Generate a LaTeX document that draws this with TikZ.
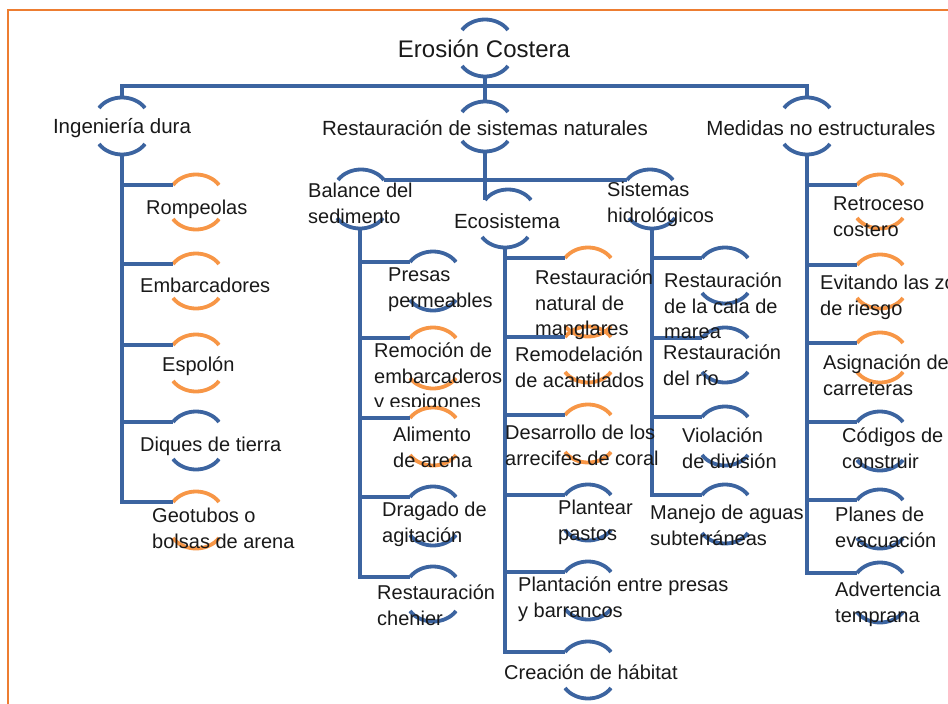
\documentclass[tikz,border=0pt]{standalone}
\usepackage{fontspec}
\setmainfont{Liberation Sans}
\usepackage{tikz}
\usetikzlibrary{positioning,calc}

\definecolor{lineblue}{RGB}{60,100,160}
\definecolor{capor}{RGB}{247,150,70}
\definecolor{framor}{RGB}{237,125,49}
\definecolor{txt}{RGB}{25,25,25}

\tikzset{
  conn/.style={draw=lineblue, line width=4.5pt},
  tcap/.pic={
    \draw[line width=3.8pt] (-23,0) .. controls (-12,-14) and (12,-14) .. (23,0);
    \coordinate (-l) at (-23,0); \coordinate (-r) at (23,0); \coordinate (-m) at (0,-10.5);
  },
  bcap/.pic={
    \draw[line width=3.8pt] (-23,0) .. controls (-12,14) and (12,14) .. (23,0);
    \coordinate (-l) at (-23,0); \coordinate (-r) at (23,0); \coordinate (-m) at (0,10.5);
  },
  leaf/.style={anchor=north west, inner sep=0pt, align=left, text=txt,
    font=\fontsize{20}{25.5}\selectfont},
  lvl/.style={anchor=base, inner sep=0pt, text=txt, font=\fontsize{20.5}{25.5}\selectfont},
}

\begin{document}
\begin{tikzpicture}[x=1pt,y=-1pt]
	\useasboundingbox (0,0) rectangle (948,704);
	\clip (0,0) rectangle (948,704);
	\draw[framor, line width=2pt] (8,10) rectangle (990,730);

	% caps of the upper levels
	\foreach \n/\x/\t/\u/\b in {ero/485/30/485/66, dura/122/108/122/144, rest/485/112/485/141,
	  medi/807/108/807/144, bal/361/180/360/218, eco/508/200/505/237, hid/650/180/652/218}{
		\pic[lineblue] (\n-t) at (\x,\t) {tcap};
		\pic[lineblue] (\n-b) at (\u,\b) {bcap};
	}
	\coordinate (bar) at (485,86);
	\draw[conn] (dura-t-m) |- (bar) -| (medi-t-m);
	\draw[conn] (ero-b-m) -- (rest-t-m);
	\draw[conn] (rest-b-m) -- (eco-t-l);
	\draw[conn] (bal-t-r) -- (hid-t-l);

	\foreach \n/\t/\b/\c in {romp/185/219/capor, embar/264/298/capor, espo/345/381/capor,
	  diq/422/459/lineblue, geo/502/538/capor}{
		\pic[\c] (\n-t) at (196,\t) {tcap};
		\pic[\c] (\n-b) at (196,\b) {bcap};
		\draw[conn] (dura-b-m) |- (\n-t-l);
	}
	\foreach \n/\t/\b/\c in {pres/262/300/lineblue, remo/338/378/capor, alim/418/455/capor,
	  drag/497/535/lineblue, chen/577/611/lineblue}{
		\pic[\c] (\n-t) at (433,\t) {tcap};
		\pic[\c] (\n-b) at (433,\b) {bcap};
		\draw[conn] (bal-b-m) |- (\n-t-l);
	}
	\foreach \n/\t/\b/\c in {mang/258/326/capor, acan/337/372/capor, arre/415/452/capor,
	  past/495/530/lineblue, barr/572/609/lineblue, habi/652/688/lineblue}{
		\pic[\c] (\n-t) at (588,\t) {tcap};
		\pic[\c] (\n-b) at (588,\b) {bcap};
		\draw[conn] (eco-b-m) |- (\n-t-l);
	}
	\foreach \n/\t/\b in {cala/258/293, rio/338/372, viol/417/455, agua/495/533}{
		\pic[lineblue] (\n-t) at (725,\t) {tcap};
		\pic[lineblue] (\n-b) at (725,\b) {bcap};
		\draw[conn] (hid-b-m) |- (\n-t-l);
	}
	\foreach \n/\t/\b/\c in {retr/185/218/capor, evit/265/298/capor, asig/343/372/capor,
	  codi/422/460/lineblue, plan/500/538/lineblue, adve/573/612/lineblue}{
		\pic[\c] (\n-t) at (880,\t) {tcap};
		\pic[\c] (\n-b) at (880,\b) {bcap};
		\draw[conn] (medi-b-m) |- (\n-t-l);
	}

	% texts
	\node[lvl, font=\fontsize{24}{29}\selectfont] (ero) at (484,57) {Erosión Costera};
	\node[lvl] (dura) at (122,133) {Ingeniería dura};
	\node[lvl] (rest) at (485,135) {Restauración de sistemas naturales};
	\node[lvl] (medi) at (821,135) {Medidas no estructurales};
	\node[leaf] (bal) at (308,183) {Balance del\\sedimento};
	\node[lvl] (eco) at (507,228) {Ecosistema};
	\node[leaf] (hid) at (607,182) {Sistemas\\hidrológicos};

	\node[leaf] (romp) at (146,200) {Rompeolas};
	\node[leaf] (embar) at (140,278) {Embarcadores};
	\node[leaf] (espo) at (162,357) {Espolón};
	\node[leaf] (diq) at (140,437) {Diques de tierra};
	\node[leaf] (geo) at (152,508) {Geotubos o\\bolsas de arena};

	\node[leaf] (pres) at (388,268) {Presas\\permeables};
	\begin{scope}
		\clip (360,330) rectangle (530,406);
		\node[leaf] (remo) at (374,343) {Remoción de\\embarcaderos\\y espigones};
	\end{scope}
	\node[leaf] (alim) at (393,427) {Alimento\\de arena};
	\node[leaf] (drag) at (382,502) {Dragado de\\agitación};
	\node[leaf] (chen) at (377,585) {Restauración\\chenier};

	\node[leaf] (mang) at (535,270) {Restauración\\natural de\\manglares};
	\node[leaf] (acan) at (515,347) {Remodelación\\de acantilados};
	\node[leaf] (arre) at (505,425) {Desarrollo de los\\arrecifes de coral};
	\node[leaf] (past) at (558,500) {Plantear\\pastos};
	\node[leaf] (barr) at (518,577) {Plantación entre presas\\y barrancos};
	\node[leaf] (habi) at (504,665) {Creación de hábitat};

	\node[leaf] (cala) at (664,273) {Restauración\\de la cala de\\marea};
	\node[leaf] (rio) at (663,345) {Restauración\\del río};
	\node[leaf] (viol) at (682,428) {Violación\\de división};
	\node[leaf] (agua) at (650,505) {Manejo de aguas\\subterráneas};

	\node[leaf] (retr) at (833,197) {Retroceso\\costero};
	\node[leaf] (evit) at (820,275) {Evitando las zonas\\de riesgo};
	\node[leaf] (asig) at (823,355) {Asignación de\\carreteras};
	\node[leaf] (codi) at (842,428) {Códigos de\\construir};
	\node[leaf] (plan) at (835,507) {Planes de\\evacuación};
	\node[leaf] (adve) at (835,582) {Advertencia\\temprana};
\end{tikzpicture}
\end{document}
